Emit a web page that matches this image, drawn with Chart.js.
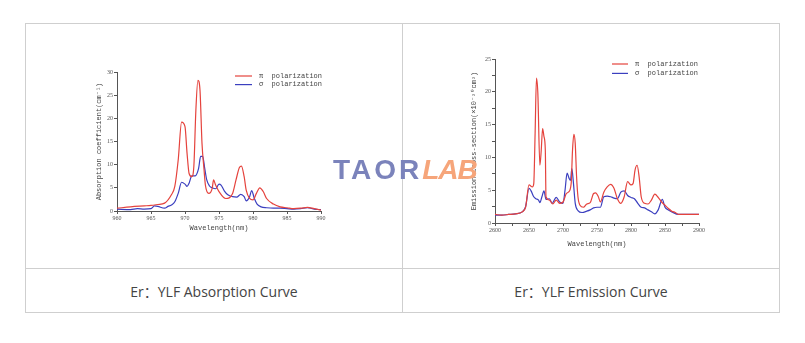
<!DOCTYPE html>
<html>
<head>
<meta charset="utf-8">
<script src="https://cdn.jsdelivr.net/npm/chart.js@4"></script>
<style>
  body { margin: 0; background: #fff; width: 805px; height: 343px; position: relative; overflow: hidden; }
  table { position: absolute; left: 25px; top: 23px; width: 755px; border-collapse: collapse; }
  td { border: 1px solid #cfcfcf; padding: 0; }
  .img { height: 244px; }
  .cap { height: 43px; text-align: center; font: 14px "Open Sans", "Noto Sans CJK SC", sans-serif; color: #444; }
  canvas { position: absolute; }
  #mark { position: absolute; left: 333px; top: 154px; font: bold 28px "Liberation Sans", sans-serif; white-space: nowrap; }
  #mark .t { color: #7b83bb; letter-spacing: 3px; }
  #mark .l { color: #f6a57a; font-style: italic; letter-spacing: -1px; }
</style>
</head>
<body>
<table>
  <tr><td class="img" style="width:376px"></td><td class="img"></td></tr>
  <tr><td class="cap">Er：YLF Absorption Curve</td><td class="cap">Er：YLF Emission Curve</td></tr>
</table>
<canvas id="abs" width="260" height="180" style="left:80px;top:60px"></canvas>
<canvas id="emi" width="260" height="210" style="left:455px;top:45px"></canvas>
<div id="mark"><span class="t">TAOR</span><span class="l">LAB</span></div>
<script>
// absorption, pi polarization
const absPiX = [960, 962, 964, 965, 966, 967, 968, 968.5, 969, 969.5, 970, 970.3, 970.6, 971, 971.3, 971.6, 971.9, 972.2, 972.5, 972.8, 973, 973.5, 974, 974.2, 974.5, 975, 976, 977, 977.5, 978, 978.3, 978.7, 979, 979.5, 980, 980.5, 981, 981.5, 982, 983, 984, 985, 986, 987, 988, 989, 990];
const absPiY = [0.6, 0.9, 1.1, 1.2, 1.4, 1.7, 3.5, 5.3, 11, 19.2, 18.2, 12.5, 8.1, 7.4, 9.6, 21.8, 28.2, 26.2, 14.6, 8.9, 5.6, 3.8, 4.9, 6.7, 5.6, 4.2, 2.7, 3.8, 6.7, 9.4, 9.7, 7.4, 4.5, 2.7, 2.4, 3.8, 5.0, 4.2, 2.7, 1.5, 0.9, 0.7, 0.5, 0.6, 0.8, 0.5, 0.2];
// absorption, sigma polarization
const absSigX = [960, 962, 963, 964, 965, 965.5, 966, 967, 967.5, 968, 968.5, 969, 969.5, 970, 970.3, 970.6, 971, 971.5, 972, 972.3, 972.6, 972.9, 973.2, 973.6, 974, 974.5, 975, 975.3, 975.8, 976.3, 977, 977.6, 978.2, 978.7, 979, 979.5, 979.8, 980.2, 980.6, 981.2, 982, 983, 984, 985, 986, 987, 988, 988.5, 989, 990];
const absSigY = [0.4, 0.3, 0.5, 0.4, 0.5, 1.1, 1.0, 0.6, 1.0, 1.3, 2.0, 3.8, 6.2, 5.8, 5.3, 6.0, 7.6, 7.6, 9.2, 11.8, 11.8, 9.2, 6.7, 5.4, 5.0, 4.8, 5.8, 5.6, 4.3, 3.5, 3.1, 3.0, 3.6, 3.1, 2.2, 3.1, 4.4, 2.7, 1.5, 0.9, 0.7, 0.6, 0.6, 0.5, 0.4, 0.5, 0.7, 0.6, 0.4, 0.3];

// emission, pi polarization
const emiPiX = [2600, 2610, 2620, 2630, 2640, 2645, 2650, 2655, 2657, 2659, 2661, 2663, 2666, 2668, 2670, 2672, 2674, 2675, 2680, 2685, 2690, 2695, 2700, 2705, 2708, 2712, 2714, 2716, 2718, 2720, 2722, 2725, 2730, 2735, 2740, 2745, 2748, 2752, 2755, 2760, 2765, 2770, 2775, 2780, 2785, 2790, 2795, 2800, 2803, 2806, 2809, 2812, 2815, 2820, 2825, 2830, 2835, 2840, 2845, 2850, 2855, 2860, 2865, 2870, 2880, 2890, 2900];
const emiPiY = [1.3, 1.2, 1.3, 1.4, 1.7, 2.4, 5.8, 5.5, 6.0, 13.7, 22.1, 19.8, 8.8, 11.1, 14.4, 13.2, 11.1, 4.0, 3.5, 2.9, 3.5, 3.0, 3.2, 4.5, 4.7, 6.0, 11.1, 13.5, 12.1, 7.0, 4.0, 2.7, 2.4, 2.9, 3.1, 4.5, 4.6, 4.0, 3.2, 4.7, 5.5, 5.9, 5.3, 3.7, 3.0, 4.0, 6.3, 5.8, 6.0, 8.1, 8.8, 7.0, 4.0, 3.0, 2.9, 3.5, 4.4, 3.9, 3.2, 2.7, 2.2, 1.8, 1.6, 1.3, 1.3, 1.3, 1.3];
// emission, sigma polarization
const emiSigX = [2600, 2610, 2620, 2630, 2640, 2645, 2650, 2653, 2657, 2660, 2664, 2666, 2669, 2672, 2675, 2680, 2684, 2690, 2695, 2700, 2703, 2706, 2709, 2711, 2713, 2715, 2718, 2722, 2728, 2735, 2740, 2745, 2750, 2755, 2760, 2765, 2770, 2775, 2780, 2785, 2790, 2795, 2800, 2805, 2810, 2815, 2820, 2825, 2830, 2835, 2840, 2846, 2850, 2855, 2860, 2870, 2880, 2890, 2900];
const emiSigY = [1.2, 1.2, 1.3, 1.4, 1.7, 2.5, 5.3, 4.9, 4.0, 3.7, 3.5, 3.1, 4.0, 4.9, 3.6, 3.7, 3.0, 3.9, 3.2, 3.0, 5.0, 7.6, 6.8, 6.5, 8.3, 6.5, 3.0, 1.9, 1.6, 1.8, 2.0, 2.3, 2.4, 2.4, 4.0, 4.1, 4.0, 3.8, 3.7, 4.7, 4.9, 4.2, 3.9, 3.7, 3.0, 2.4, 2.3, 2.0, 1.7, 1.4, 2.0, 3.6, 2.4, 2.0, 1.7, 1.3, 1.3, 1.3, 1.3];

const seriesLabels = ['π polarization', 'σ polarization'];
const RED = '#e5433d';
const BLUE = '#3b3fbf';
const MONO = '"Liberation Mono", "DejaVu Sans Mono", monospace';

const pts = (xs, ys) => xs.map((x, i) => ({ x: x, y: ys[i] }));

// legend drawn inside the plot, like the scanned figure
const innerLegend = {
    id: 'innerLegend',
    afterDraw(chart, args, opts) {
        const ctx = chart.ctx;
        ctx.save();
        ctx.font = '7px ' + MONO;
        ctx.textBaseline = 'middle';
        chart.data.datasets.forEach((ds, i) => {
            const y = opts.y + i * opts.gap;
            ctx.strokeStyle = ds.borderColor;
            ctx.lineWidth = 1.2;
            ctx.beginPath();
            ctx.moveTo(opts.x, y);
            ctx.lineTo(opts.x + opts.len, y);
            ctx.stroke();
            ctx.fillStyle = '#444';
            ctx.fillText(ds.label.replace(' ', '  '), opts.x + opts.len + 7, y);
        });
        ctx.restore();
    }
};

function makeChart(id, piData, sigData, xr, yr, yTitle, box, legend) {
    const tickFont = { family: '"Liberation Serif", serif', size: 6 };
    new Chart(document.getElementById(id), {
        type: 'line',
        data: {
            datasets: [
                { label: seriesLabels[0], data: piData, borderColor: RED, borderWidth: 1.2, pointRadius: 0, cubicInterpolationMode: 'monotone' },
                { label: seriesLabels[1], data: sigData, borderColor: BLUE, borderWidth: 1.2, pointRadius: 0, cubicInterpolationMode: 'monotone' },
            ]
        },
        plugins: [innerLegend],
        options: {
            responsive: false,
            animation: false,
            layout: { padding: { top: box.top, right: box.right, left: box.left, bottom: box.bottom } },
            plugins: {
                legend: { display: false },
                tooltip: { enabled: false },
                innerLegend: legend,
            },
            scales: {
                x: {
                    type: 'linear',
                    min: xr.min, max: xr.max,
                    border: { color: '#555' },
                    grid: { drawOnChartArea: false, tickLength: 3, color: '#555' },
                    ticks: {
                        stepSize: xr.step, font: tickFont, color: '#555', padding: 1, maxRotation: 0,
                        callback: v => (v % xr.label === 0 ? v : '')
                    },
                    title: { display: true, text: 'Wavelength(nm)', font: { family: MONO, size: 7 }, color: '#444', padding: 0 },
                    afterFit: s => { s.height = box.xh; }
                },
                y: {
                    min: yr.min, max: yr.max,
                    border: { color: '#555' },
                    grid: { drawOnChartArea: false, tickLength: 3, color: '#555' },
                    ticks: {
                        stepSize: yr.step, font: tickFont, color: '#555', padding: 1,
                        callback: v => (v % yr.label === 0 ? v : '')
                    },
                    title: { display: true, text: yTitle, font: { family: MONO, size: 7 }, color: '#444', padding: 0 },
                    afterFit: s => { s.width = box.yw; }
                }
            }
        }
    });
}

makeChart('abs', pts(absPiX, absPiY), pts(absSigX, absSigY),
    { min: 960, max: 990, step: 5, label: 5 }, { min: 0, max: 30, step: 5, label: 5 },
    'Absorption coefficient(cm⁻¹)',
    { top: 12, right: 19, left: 15, bottom: 8, xh: 21, yw: 22 },
    { x: 155, y: 16, gap: 8.6, len: 17 });

makeChart('emi', pts(emiPiX, emiPiY), pts(emiSigX, emiSigY),
    { min: 2600, max: 2900, step: 25, label: 50 }, { min: 0, max: 25, step: 2.5, label: 5 },
    'Emission cross-section(×10⁻²⁰cm²)',
    { top: 14, right: 16, left: 15, bottom: 7, xh: 25, yw: 25 },
    { x: 157, y: 19, gap: 9.4, len: 16 });
</script>
</body>
</html>
